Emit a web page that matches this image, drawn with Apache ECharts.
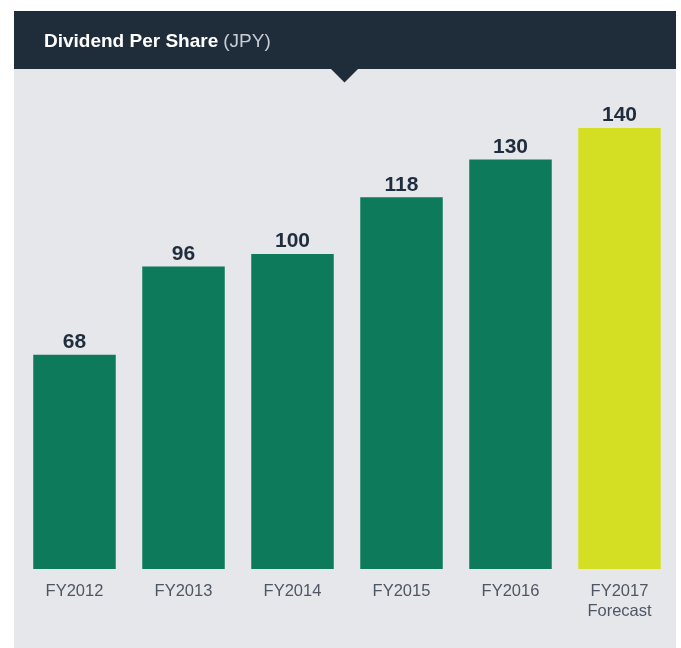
<!DOCTYPE html>
<html>
<head>
<meta charset="utf-8">
<script src="https://cdn.jsdelivr.net/npm/echarts@6/dist/echarts.min.js"></script>
<style>
    html, body { margin: 0; padding: 0; background: #fff; }
    #chart { width: 681px; height: 648px; }
</style>
</head>
<body>
<div id="chart"></div>
<script>
    var categories = ['FY2012', 'FY2013', 'FY2014', 'FY2015', 'FY2016', 'FY2017\nForecast'];
    var dividends = [68, 96, 100, 118, 130, 140];
    var forecastIndex = 5;

    var chart = echarts.init(document.getElementById('chart'));

    // 柱子颜色：预测年份用黄绿色
    var barData = dividends.map(function(v, i) {
        return {
            value: v,
            itemStyle: { color: i === forecastIndex ? '#d4df24' : '#0c7a5b' }
        };
    });

    var option = {
        animation: false,
        backgroundColor: '#fff',
        graphic: [{
            type: 'rect',
            z: -10,
            shape: { x: 14, y: 69, width: 662, height: 579 },
            style: { fill: '#e6e7eb' }
        }, {
            type: 'rect',
            z: -9,
            shape: { x: 14, y: 11, width: 662, height: 58 },
            style: { fill: '#1f2d3b' }
        }, {
            type: 'polygon',
            z: -9,
            shape: { points: [[330, 68], [359, 68], [344.5, 82.5]] },
            style: { fill: '#1f2d3b' }
        }],
        title: {
            left: 39,
            top: 25,
            text: '{b|Dividend Per Share} {n|(JPY)}',
            textStyle: {
                rich: {
                    b: {
                        color: '#ffffff',
                        fontSize: 19,
                        fontWeight: 'bold',
                        fontFamily: 'Liberation Sans',
                        lineHeight: 24
                    },
                    n: {
                        color: '#c9cdd3',
                        fontSize: 19,
                        fontWeight: 'normal',
                        fontFamily: 'Liberation Sans',
                        lineHeight: 24
                    }
                }
            }
        },
        grid: {
            left: 20,
            right: 7,
            top: 96.5,
            bottom: 79,
            containLabel: false
        },
        xAxis: {
            type: 'category',
            data: categories,
            axisLine: { show: false },
            axisTick: { show: false },
            axisLabel: {
                color: '#4d5763',
                fontSize: 16.5,
                lineHeight: 19.5,
                fontFamily: 'Liberation Sans',
                margin: 13,
                interval: 0
            }
        },
        yAxis: {
            type: 'value',
            min: 0,
            max: 150,
            show: false,
            splitLine: { show: false }
        },
        series: [{
            type: 'bar',
            data: barData,
            barWidth: 82.5,
            label: {
                show: true,
                position: 'top',
                distance: 2,
                color: '#1f2d3d',
                fontSize: 21,
                fontWeight: 'bold',
                fontFamily: 'Liberation Sans'
            }
        }]
    };

    chart.setOption(option, true);
</script>
</body>
</html>
